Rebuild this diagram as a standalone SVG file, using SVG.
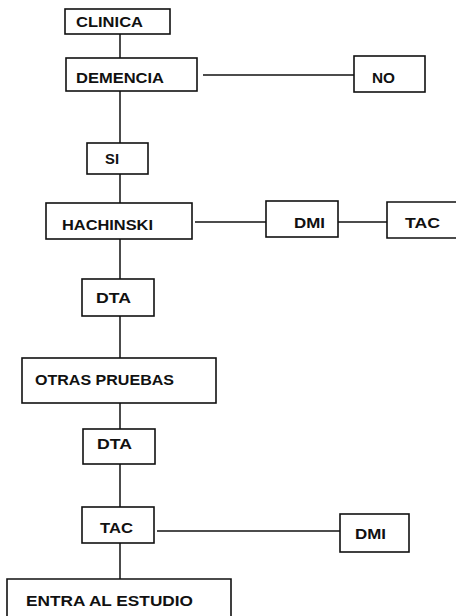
<svg xmlns="http://www.w3.org/2000/svg" width="456" height="616" viewBox="0 0 456 616">
<style>
.b{fill:#fff;stroke:#111;stroke-width:1.6}
.c{stroke:#111;stroke-width:1.5;fill:none}
text{font-family:"Liberation Sans",Arial,sans-serif;font-weight:bold;font-size:15.5px;fill:#111}
</style>
<rect width="456" height="616" fill="#fff"/>
<g id="connectors">
<line class="c" x1="120" y1="34" x2="120" y2="58"/>
<line class="c" x1="120" y1="91" x2="120" y2="143"/>
<line class="c" x1="120" y1="174" x2="120" y2="203"/>
<line class="c" x1="120" y1="239" x2="120" y2="279"/>
<line class="c" x1="120" y1="316" x2="120" y2="358"/>
<line class="c" x1="120" y1="403" x2="120" y2="429"/>
<line class="c" x1="120" y1="464" x2="120" y2="507"/>
<line class="c" x1="120" y1="543" x2="120" y2="579"/>
<line class="c" x1="203" y1="75" x2="354" y2="75"/>
<line class="c" x1="195" y1="222" x2="266" y2="222"/>
<line class="c" x1="338" y1="222" x2="387" y2="222"/>
<line class="c" x1="157" y1="531" x2="340" y2="531"/>
</g>
<g id="clinica"><rect class="b" x="65" y="9" width="105" height="25"/><text x="76" y="27" textLength="67" lengthAdjust="spacingAndGlyphs">CLINICA</text></g>
<g id="demencia"><rect class="b" x="66" y="58" width="131" height="33"/><text x="76" y="83" textLength="88" lengthAdjust="spacingAndGlyphs">DEMENCIA</text></g>
<g id="no"><rect class="b" x="354" y="56" width="71" height="36"/><text x="372" y="83" textLength="23" lengthAdjust="spacingAndGlyphs">NO</text></g>
<g id="si"><rect class="b" x="87" y="143" width="61" height="31"/><text x="105" y="164" textLength="14" lengthAdjust="spacingAndGlyphs">SI</text></g>
<g id="hachinski"><rect class="b" x="46" y="203" width="146" height="36"/><text x="62" y="230" textLength="91" lengthAdjust="spacingAndGlyphs">HACHINSKI</text></g>
<g id="dmi1"><rect class="b" x="266" y="201" width="72" height="36"/><text x="294" y="228" textLength="31" lengthAdjust="spacingAndGlyphs">DMI</text></g>
<g id="tac1"><path class="b" d="M460 202 H387 V238 H460"/><text x="405" y="228" textLength="35" lengthAdjust="spacingAndGlyphs">TAC</text></g>
<g id="dta1"><rect class="b" x="82" y="279" width="72" height="37"/><text x="96" y="303" textLength="35" lengthAdjust="spacingAndGlyphs">DTA</text></g>
<g id="otras"><rect class="b" x="22" y="358" width="194" height="45"/><text x="35" y="385" textLength="139" lengthAdjust="spacingAndGlyphs">OTRAS PRUEBAS</text></g>
<g id="dta2"><rect class="b" x="83" y="429" width="72" height="35"/><text x="97" y="449" textLength="35" lengthAdjust="spacingAndGlyphs">DTA</text></g>
<g id="tac2"><rect class="b" x="82" y="507" width="72" height="36"/><text x="100" y="533" textLength="33" lengthAdjust="spacingAndGlyphs">TAC</text></g>
<g id="dmi2"><rect class="b" x="340" y="514" width="69" height="38"/><text x="355" y="539" textLength="31" lengthAdjust="spacingAndGlyphs">DMI</text></g>
<g id="entra"><path class="b" d="M7 620 V579 H231 V620"/><text x="26" y="606" textLength="167" lengthAdjust="spacingAndGlyphs">ENTRA AL ESTUDIO</text></g>
</svg>
